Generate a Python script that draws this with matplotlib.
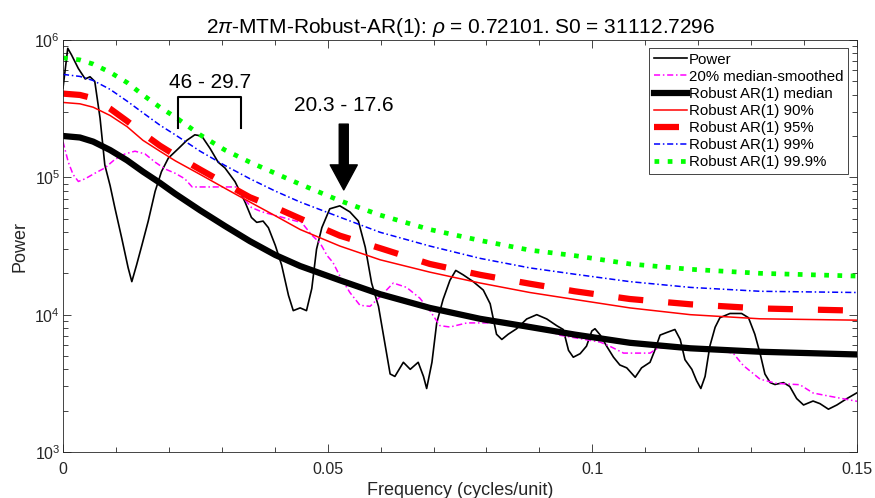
import math

import matplotlib

matplotlib.use("Agg")
import matplotlib.pyplot as plt
from matplotlib.ticker import FixedLocator, FuncFormatter, LogLocator, MultipleLocator, NullFormatter

plt.rcParams["font.family"] = ["Liberation Sans", "DejaVu Sans"]
plt.rcParams["mathtext.fontset"] = "custom"
plt.rcParams["mathtext.rm"] = "Liberation Sans"
plt.rcParams["mathtext.it"] = "Liberation Sans:italic"

INK = "#262626"

# --- spectrum ---
power_f = [0.0000, 0.0009, 0.0016, 0.0029, 0.0042, 0.0051, 0.0060, 0.0070, 0.0079, 0.0089,
           0.0098, 0.0111, 0.0123, 0.0130, 0.0139, 0.0149, 0.0161, 0.0174, 0.0186, 0.0199,
           0.0218, 0.0234, 0.0249, 0.0262, 0.0278, 0.0293, 0.0306, 0.0325, 0.0344, 0.0356,
           0.0366, 0.0378, 0.0388, 0.0401, 0.0413, 0.0426, 0.0435, 0.0448, 0.0460, 0.0470,
           0.0479, 0.0489, 0.0504, 0.0523, 0.0542, 0.0558, 0.0571, 0.0583, 0.0596, 0.0608,
           0.0618, 0.0627, 0.0643, 0.0656, 0.0671, 0.0681, 0.0687, 0.0697, 0.0706, 0.0718,
           0.0731, 0.0742, 0.0756, 0.0775, 0.0794, 0.0807, 0.0819, 0.0829, 0.0841, 0.0857,
           0.0876, 0.0895, 0.0914, 0.0933, 0.0945, 0.0955, 0.0964, 0.0977, 0.0989, 0.0999,
           0.1005, 0.1015, 0.1027, 0.1040, 0.1052, 0.1065, 0.1081, 0.1093, 0.1109, 0.1118,
           0.1128, 0.1140, 0.1156, 0.1166, 0.1175, 0.1188, 0.1197, 0.1205, 0.1213, 0.1222,
           0.1232, 0.1241, 0.1260, 0.1282, 0.1295, 0.1307, 0.1317, 0.1326, 0.1336, 0.1345,
           0.1361, 0.1373, 0.1386, 0.1399, 0.1417, 0.1430, 0.1446, 0.1462, 0.1481, 0.1500]
power = [4.47e5, 8.7e5, 7.8e5, 6.2e5, 5.2e5, 5.4e5, 5.0e5, 2.7e5, 1.23e5, 8.7e4,
         6.0e4, 3.6e4, 2.2e4, 1.74e4, 2.3e4, 3.2e4, 4.8e4, 7.9e4, 1.1e5, 1.38e5,
         1.62e5, 1.86e5, 2.04e5, 2.0e5, 1.62e5, 1.29e5, 1.17e5, 9.3e4, 6.6e4, 5.1e4,
         4.7e4, 4.8e4, 4.3e4, 3.2e4, 2.3e4, 1.38e4, 1.07e4, 1.12e4, 1.07e4, 1.55e4,
         3.0e4, 4.3e4, 5.9e4, 6.2e4, 5.6e4, 4.8e4, 3.1e4, 1.7e4, 1.15e4, 6.2e3,
         3.7e3, 3.55e3, 4.5e3, 4.0e3, 4.5e3, 3.55e3, 2.9e3, 4.5e3, 8.7e3, 1.29e4,
         1.78e4, 2.1e4, 1.95e4, 1.74e4, 1.51e4, 1.2e4, 7.2e3, 6.6e3, 7.2e3, 7.9e3,
         9.3e3, 1.0e4, 9.3e3, 8.3e3, 7.8e3, 5.5e3, 4.9e3, 5.2e3, 5.9e3, 7.6e3,
         7.9e3, 7.1e3, 5.9e3, 4.9e3, 4.3e3, 4.1e3, 3.5e3, 4.1e3, 4.5e3, 5.5e3,
         7.1e3, 7.4e3, 7.8e3, 6.6e3, 4.7e3, 4.0e3, 3.3e3, 2.9e3, 3.55e3, 5.9e3,
         8.1e3, 9.5e3, 1.02e4, 1.02e4, 9.5e3, 7.2e3, 5.2e3, 3.7e3, 3.2e3, 3.1e3,
         3.2e3, 3.0e3, 2.45e3, 2.2e3, 2.35e3, 2.25e3, 2.05e3, 2.2e3, 2.45e3, 2.7e3]

smooth_f = [0.0000, 0.0010, 0.0019, 0.0029, 0.0042, 0.0060, 0.0079, 0.0098, 0.0117, 0.0136,
            0.0155, 0.0174, 0.0193, 0.0212, 0.0230, 0.0244, 0.0287, 0.0328, 0.0341, 0.0356,
            0.0375, 0.0413, 0.0451, 0.0470, 0.0486, 0.0499, 0.0510, 0.0523, 0.0542, 0.0561,
            0.0580, 0.0599, 0.0624, 0.0649, 0.0674, 0.0693, 0.0712, 0.0731, 0.0763, 0.0800,
            0.0838, 0.0876, 0.0907, 0.0939, 0.0970, 0.1015, 0.1033, 0.1059, 0.1109, 0.1125,
            0.1178, 0.1235, 0.1266, 0.1285, 0.1317, 0.1348, 0.1392, 0.1417, 0.1443, 0.1500]
smooth = [1.82e5, 1.29e5, 1.05e5, 9.33e4, 9.77e4, 1.07e5, 1.17e5, 1.35e5, 1.48e5, 1.55e5,
          1.48e5, 1.29e5, 1.15e5, 1.07e5, 9.77e4, 8.51e4, 8.51e4, 8.51e4, 7.08e4, 6.03e4,
          5.62e4, 5.13e4, 4.68e4, 3.80e4, 3.31e4, 2.69e4, 2.40e4, 1.91e4, 1.45e4, 1.17e4,
          1.15e4, 1.35e4, 1.70e4, 1.58e4, 1.32e4, 1.07e4, 8.32e3, 8.13e3, 8.71e3, 8.71e3,
          8.71e3, 8.51e3, 7.94e3, 7.08e3, 6.76e3, 6.31e3, 5.89e3, 5.25e3, 5.25e3, 5.75e3,
          5.62e3, 5.50e3, 5.25e3, 4.27e3, 3.39e3, 3.16e3, 3.09e3, 2.69e3, 2.57e3, 2.34e3]

# --- robust AR(1) background and confidence levels ---
ar_f = [0.0000, 0.0032, 0.0057, 0.0089, 0.0121, 0.0151, 0.0183, 0.0212, 0.0259, 0.0306,
        0.0353, 0.0401, 0.0448, 0.0523, 0.0599, 0.0693, 0.0788, 0.0882, 0.0967, 0.1071,
        0.1185, 0.1317, 0.1500]
ar_median = [2.00e5, 1.95e5, 1.82e5, 1.58e5, 1.33e5, 1.10e5, 9.12e4, 7.59e4, 5.75e4, 4.42e4,
             3.43e4, 2.72e4, 2.26e4, 1.78e4, 1.41e4, 1.12e4, 9.33e3, 8.13e3, 7.16e3, 6.24e3,
             5.69e3, 5.37e3, 5.13e3]
ar_90 = [3.51e5, 3.43e5, 3.24e5, 2.82e5, 2.34e5, 1.86e5, 1.55e5, 1.32e5, 1.05e5, 8.32e4,
         6.61e4, 5.25e4, 4.17e4, 3.16e4, 2.51e4, 2.04e4, 1.70e4, 1.45e4, 1.29e4, 1.12e4,
         1.00e4, 9.33e3, 9.12e3]
ar_95 = [4.07e5, 3.98e5, 3.76e5, 3.16e5, 2.57e5, 2.09e5, 1.70e5, 1.45e5, 1.14e5, 9.02e4,
         7.16e4, 6.03e4, 5.01e4, 3.76e4, 3.05e4, 2.34e4, 1.95e4, 1.68e4, 1.48e4, 1.30e4,
         1.19e4, 1.11e4, 1.07e4]
ar_99 = [5.62e5, 5.43e5, 5.07e5, 4.37e5, 3.59e5, 2.95e5, 2.40e5, 2.04e5, 1.55e5, 1.22e5,
         9.77e4, 7.94e4, 6.61e4, 5.13e4, 3.98e4, 3.16e4, 2.57e4, 2.19e4, 1.97e4, 1.74e4,
         1.58e4, 1.48e4, 1.45e4]
ar_999 = [7.41e5, 7.16e5, 6.68e5, 5.82e5, 4.90e5, 3.98e5, 3.24e5, 2.75e5, 2.04e5, 1.58e5,
          1.29e5, 1.07e5, 8.91e4, 6.76e4, 5.31e4, 4.17e4, 3.47e4, 2.95e4, 2.69e4, 2.34e4,
          2.14e4, 2.00e4, 1.91e4]

legend_labels = ["Power", "20% median-smoothed", "Robust AR(1) median", "Robust AR(1) 90%",
                 "Robust AR(1) 95%", "Robust AR(1) 99%", "Robust AR(1) 99.9%"]

# annotated period bands (in time units)
band1 = (46, 29.7)
band2 = (20.3, 17.6)

fig = plt.figure(figsize=(8.75, 4.98), dpi=100)
ax = fig.add_axes([63 / 875, 1 - 452 / 498, 794 / 875, 412 / 498])

dashdot = (0, (4.0, 1.8, 1.0, 1.8))
ax.plot(power_f, power, color="k", lw=1.2, label=legend_labels[0])
ax.plot(smooth_f, smooth, color="#ff00ff", lw=1.1, linestyle=dashdot, label=legend_labels[1])
ax.plot(ar_f, ar_median, color="k", lw=4.5, label=legend_labels[2])
ax.plot(ar_f, ar_90, color="#ff0000", lw=1.1, label=legend_labels[3])
ax.plot(ar_f, ar_95, color="#ff0000", lw=4.5, linestyle=(0, (4, 4)), label=legend_labels[4])
ax.plot(ar_f, ar_99, color="#0000ff", lw=1.1, linestyle=dashdot, label=legend_labels[5])
ax.plot(ar_f, ar_999, color="#00ff00", lw=3.4, linestyle=(0, (1, 1.8)), label=legend_labels[6])

ax.set_yscale("log")
ax.set_xlim(0, 0.15)
ax.set_ylim(1e3, 1e6)

# bracket over the 46 - 29.7 band
b_lo, b_hi = 1 / band1[0], 1 / band1[1]
ax.plot([b_lo, b_lo, b_hi, b_hi], [2.3e5, 3.85e5, 3.85e5, 2.3e5], color="k", lw=1.5)
ax.text((b_lo + b_hi) / 2, 4.94e5, f"{band1[0]} - {band1[1]}", ha="center", va="center",
        fontsize=15, color="k")

# arrow onto the 20.3 - 17.6 band
a_mid = (1 / band2[0] + 1 / band2[1]) / 2
ax.annotate("", xy=(a_mid, 8.1e4), xytext=(a_mid, 2.44e5),
            arrowprops=dict(facecolor="k", edgecolor="k", width=6.5, headwidth=19.5,
                            headlength=18, shrink=0))
ax.text(a_mid, 3.36e5, f"{band2[0]} - {band2[1]}", ha="center", va="center",
        fontsize=15, color="k")

ax.xaxis.set_major_locator(FixedLocator([0, 0.05, 0.1, 0.15]))
ax.xaxis.set_major_formatter(FuncFormatter(lambda v, p: f"{v:g}"))
ax.xaxis.set_minor_locator(MultipleLocator(0.01))
ax.yaxis.set_major_locator(FixedLocator([1e3, 1e4, 1e5, 1e6]))
ax.yaxis.set_major_formatter(FuncFormatter(lambda v, p: r"$10^{%d}$" % round(math.log10(v))))
ax.yaxis.set_minor_locator(LogLocator(base=10, subs=range(2, 10)))
ax.yaxis.set_minor_formatter(NullFormatter())

ax.tick_params(which="both", direction="in", top=True, right=True, colors=INK, width=0.6)
ax.tick_params(which="major", length=6, labelsize=11.5)
ax.tick_params(which="minor", length=3.5)
ax.tick_params(axis="x", which="major", pad=7)
ax.tick_params(axis="y", which="major", pad=2)
for s in ax.spines.values():
    s.set_color(INK)
    s.set_linewidth(0.6)

ax.set_xlabel("Frequency (cycles/unit)", fontsize=13, color=INK, labelpad=4)
ax.set_ylabel("Power", fontsize=13, color=INK, labelpad=4)
ax.set_title(r"2$\pi$-MTM-Robust-AR(1): $\rho$ = 0.72101. S0 = 31112.7296",
             fontsize=15, color="k", pad=5)

leg = ax.legend(loc="upper right", bbox_to_anchor=((848 - 63) / 794, (452 - 48) / 412),
                borderaxespad=0, fontsize=10.8, handlelength=2.2, handletextpad=0.15,
                borderpad=0.3, labelspacing=0.21, fancybox=False, framealpha=1)
leg.get_frame().set_edgecolor(INK)
leg.get_frame().set_linewidth(0.6)

fig.savefig("out.png", dpi=100)
